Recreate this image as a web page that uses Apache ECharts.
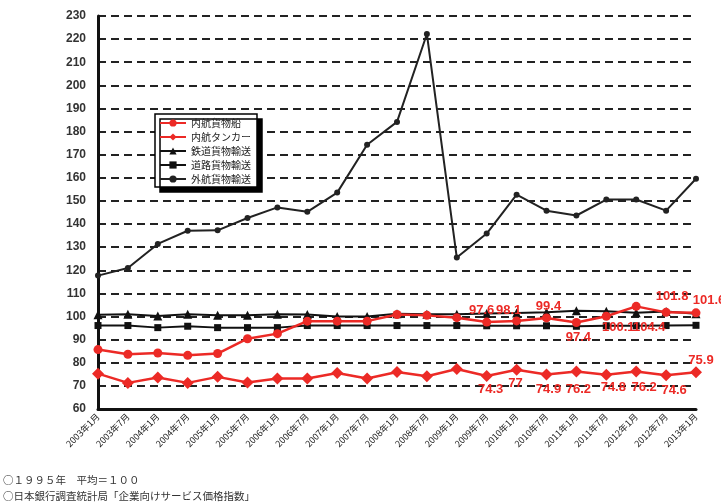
<!DOCTYPE html>
<html><head><meta charset="utf-8">
<script src="https://cdn.jsdelivr.net/npm/echarts@6/dist/echarts.min.js"></script>
<style>html,body{margin:0;padding:0;background:#fff}#c{width:721px;height:504px}</style>
</head><body><div id="c"></div>
<script>
const categories = ["2003年1月","2003年7月","2004年1月","2004年7月","2005年1月","2005年7月","2006年1月","2006年7月","2007年1月","2007年7月","2008年1月","2008年7月","2009年1月","2009年7月","2010年1月","2010年7月","2011年1月","2011年7月","2012年1月","2012年7月","2013年1月"];
const naikoCargo  = [85.7,83.7,84.2,83.2,84.0,90.4,92.6,98.0,98.0,98.0,100.9,100.5,99.5,97.6,98.1,99.4,97.4,100.1,104.4,101.8,101.6];
const naikoTanker = [75.3,71.3,73.6,71.3,73.9,71.5,73.2,73.2,75.6,73.2,76.0,74.2,77.3,74.3,77.0,74.9,76.2,74.8,76.2,74.6,75.9];
const rail        = [100.8,101.0,100.2,101.0,100.6,100.6,101.0,100.9,100.0,100.0,101.2,101.0,101.0,101.3,101.5,101.8,102.5,102.3,101.6,102.2,101.2];
const road        = [96.1,96.1,95.2,95.8,95.2,95.2,95.2,96.1,96.1,96.1,96.1,96.1,96.1,96.0,96.0,96.0,95.8,96.0,96.0,96.1,96.2];
const gaiko       = [117.7,121.0,131.4,137.1,137.3,142.6,147.2,145.3,153.6,174.3,184.2,222.2,125.5,135.9,152.7,145.8,143.7,150.6,150.6,145.8,159.6];
const seriesNames = ["内航貨物船","内航タンカー","鉄道貨物輸送","道路貨物輸送","外航貨物輸送"];
const yTicks = {min:60, max:230, interval:10};
const footLines = ["○１９９５年　平均＝１００","○日本銀行調査統計局「企業向けサービス価格指数」"];
const labelFrom = 13;

// label offsets (style only)
const cargoOffsets  = [[-5,-12],[-8,-10],[2,-11],[2,15],[12,11],[13,21],[6,-16],[13,-12]];
const tankerOffsets = [[4,13],[-1,14],[2,15],[2,18],[7,13],[8,16],[8,15],[5,-12]];

const RED = '#ec2a26';
const labelStyle = {color: RED, fontSize: 13, fontWeight: 'bold', fontFamily: 'Liberation Sans, Arial, sans-serif'};

function withLabels(vals, offs){
  return vals.map((v,i)=>{
    if(i<labelFrom) return v;
    return {value:v, label:Object.assign({show:true, position:'inside', offset:offs[i-labelFrom], formatter: p=>String(p.value)}, labelStyle)};
  });
}

const chart = echarts.init(document.getElementById('c'), null, {renderer:'canvas'});
chart.setOption({
  animation:false,
  backgroundColor:'#fff',
  grid:{left:98, right:25, top:16, bottom:95, containLabel:false},
  legend:{
    orient:'vertical', left:155, top:114, itemWidth:26, itemHeight:9, itemGap:4,
    padding:[4,6,3,4], backgroundColor:'#fff', borderColor:'#000', borderWidth:1.5,
    shadowColor:'#000', shadowOffsetX:5, shadowOffsetY:5, shadowBlur:0,
    textStyle:{fontSize:10, color:'#222', fontFamily:'Noto Sans CJK JP'},
    data: seriesNames
  },
  xAxis:{
    type:'category', data:categories, boundaryGap:false,
    axisLine:{lineStyle:{color:'#111', width:3}},
    axisTick:{show:false},
    axisLabel:{rotate:45, fontSize:9, color:'#222', fontFamily:'Noto Sans CJK JP', margin:6, interval:0},
    splitLine:{show:false}
  },
  yAxis:{
    type:'value', min:yTicks.min, max:yTicks.max, interval:yTicks.interval,
    axisLine:{show:true, lineStyle:{color:'#111', width:3}},
    axisTick:{show:false},
    axisLabel:{fontSize:12, fontWeight:'bold', color:'#333', margin:12, fontFamily:'Liberation Sans, Arial, sans-serif'},
    splitLine:{show:true, lineStyle:{color:'#222', width:2, type:[8,5]}}
  },
  series:[
    {name:seriesNames[0], type:'line', data:withLabels(naikoCargo,cargoOffsets), symbol:'circle', symbolSize:9, z:4,
     itemStyle:{color:RED}, lineStyle:{color:RED, width:2.5}},
    {name:seriesNames[1], type:'line', data:withLabels(naikoTanker,tankerOffsets), symbol:'diamond', symbolSize:12, z:4,
     itemStyle:{color:RED}, lineStyle:{color:RED, width:2.5}},
    {name:seriesNames[2], type:'line', data:rail, symbol:'triangle', symbolSize:9, z:3,
     itemStyle:{color:'#111'}, lineStyle:{color:'#111', width:2}},
    {name:seriesNames[3], type:'line', data:road, symbol:'rect', symbolSize:7, z:3,
     itemStyle:{color:'#111'}, lineStyle:{color:'#111', width:2}},
    {name:seriesNames[4], type:'line', data:gaiko, symbol:'circle', symbolSize:6, z:3,
     itemStyle:{color:'#222'}, lineStyle:{color:'#222', width:2}}
  ],
  graphic: footLines.map((t,i)=>({type:'text', left:3, top:475+i*16, style:{text:t, fontSize:10.5, fill:'#333', fontFamily:'Noto Sans CJK JP'}}))
});
</script></body></html>
